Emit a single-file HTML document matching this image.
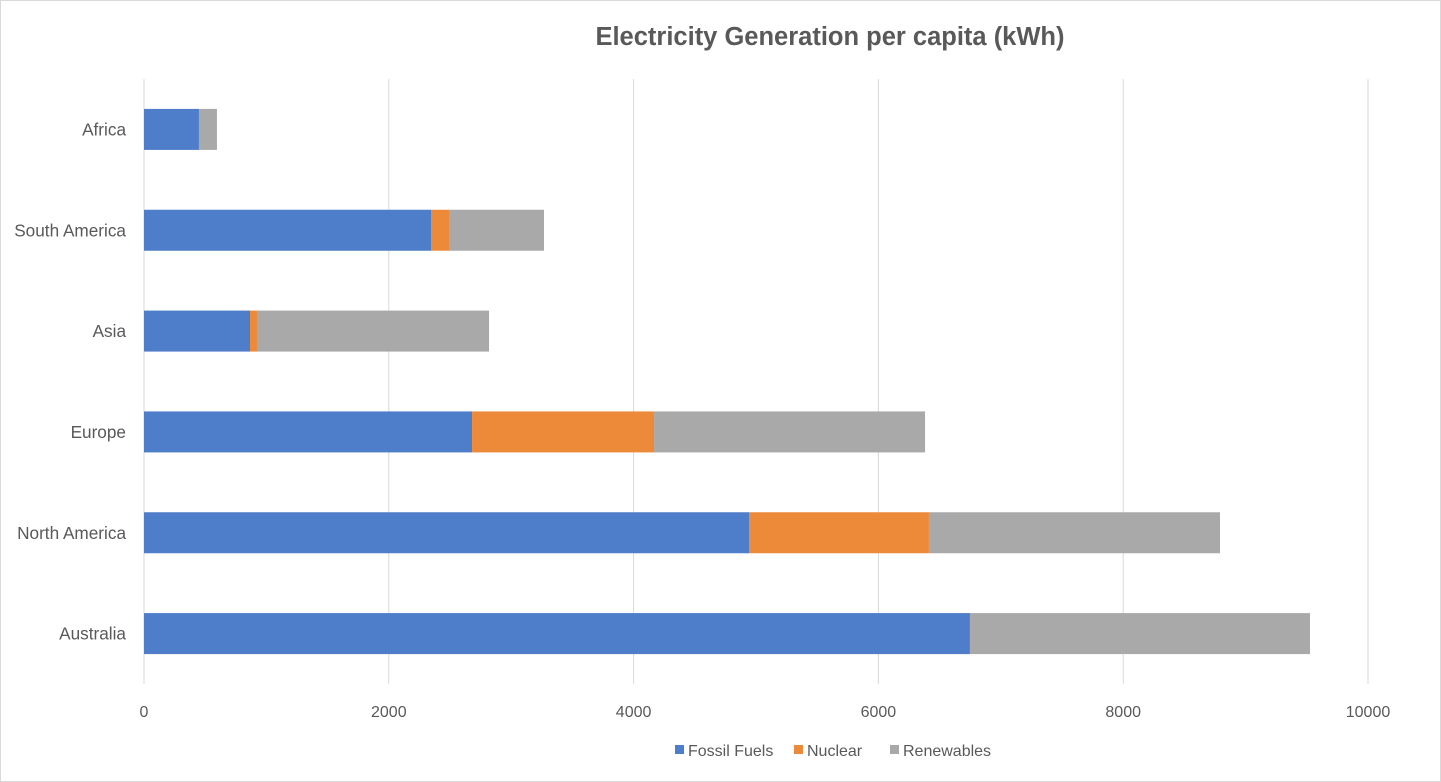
<!DOCTYPE html>
<html><head><meta charset="utf-8">
<style>
html,body{margin:0;padding:0;background:#fff;}
svg{display:block;font-family:"Liberation Sans",Calibri,sans-serif;}
</style></head>
<body>
<svg id="chart" width="1441" height="782" viewBox="0 0 1441 782">
<rect x="0.5" y="0.5" width="1440" height="781" fill="#fff" stroke="#d9d9d9"/>
<text x="830" y="45" text-anchor="middle" font-size="25.5" font-weight="bold" fill="#595959">Electricity Generation per capita (kWh)</text>
<g id="grid"></g>
<g id="bars"></g>
<g id="ylabels"></g>
<g id="xlabels"></g>
<g id="legend"></g>
</svg>
<script>
const categories = ["Africa","South America","Asia","Europe","North America","Australia"];
const fossil = [449, 2345, 866, 2680, 4943, 6748];
const nuclear = [0, 147, 57, 1487, 1470, 0];
const renewables = [147, 776, 1896, 2214, 2378, 2778];
const xTicks = [0,2000,4000,6000,8000,10000];
const seriesNames = ["Fossil Fuels","Nuclear","Renewables"];
const seriesColors = ["#4e7dc9","#ed8a3a","#a9a9a9"];

const NS="http://www.w3.org/2000/svg";
const x0=144, x1=1368, xMax=10000, plotTop=79, plotBottom=684;
const xs=v=>x0+(v/xMax)*(x1-x0);
const band=(plotBottom-plotTop)/categories.length;
const yc=i=>plotTop+band*(i+0.5);
const barH=41;
function mk(tag,attrs,parent){const e=document.createElementNS(NS,tag);for(const k in attrs)e.setAttribute(k,attrs[k]);parent.appendChild(e);return e;}
const grid=document.getElementById('grid'),bars=document.getElementById('bars'),yl=document.getElementById('ylabels'),xl=document.getElementById('xlabels'),lg=document.getElementById('legend');
xTicks.forEach(t=>{
  const l=mk('line',{x1:xs(t),x2:xs(t),y1:plotTop,y2:plotBottom,stroke:'#d9d9d9','stroke-width':1},grid);
  
  
  const tx=mk('text',{x:xs(t),y:717,'text-anchor':'middle','font-size':16,fill:'#595959'},xl);
  tx.textContent=t;
  
  
});
const series=[fossil,nuclear,renewables];
categories.forEach((c,i)=>{
  let acc=0;
  series.forEach((s,j)=>{
    const v=s[i];
    if(v>0){
      const r=mk('rect',{x:xs(acc),y:yc(i)-barH/2,width:xs(acc+v)-xs(acc),height:barH,fill:seriesColors[j]},bars);
      
      
    }
    acc+=v;
  });
  const t=mk('text',{x:126,y:yc(i)+6,'text-anchor':'end','font-size':17.2,fill:'#595959'},yl);
  t.textContent=c;
  
  
});
const lx=[675,794,890];
seriesNames.forEach((n,j)=>{
  const r=mk('rect',{x:lx[j],y:745,width:9,height:9,fill:seriesColors[j]},lg);
  
  
  const t=mk('text',{x:lx[j]+13,y:756,'font-size':16,fill:'#595959'},lg);
  t.textContent=n;
  
  
});
</script>
</body></html>
